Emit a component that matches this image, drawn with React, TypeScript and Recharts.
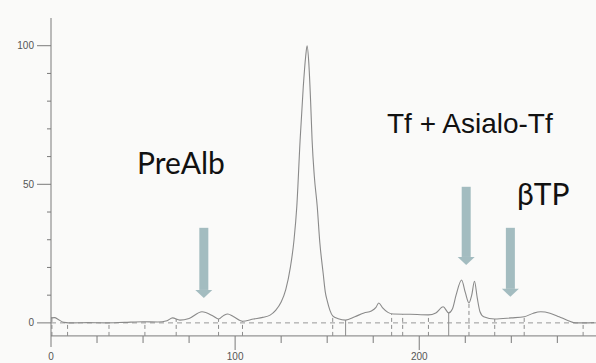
import React from "react";
import { LineChart, Line, XAxis, YAxis, ReferenceLine } from "recharts";

// densitometer trace: position along the strip vs relative intensity
const position = [
  0, 2, 4, 7, 12, 20, 30, 40, 50, 58, 63, 66, 70, 75, 82, 88, 91, 94, 96, 99,
  104, 110, 115, 119, 122, 125, 127.5, 130, 132, 133.5, 135.3, 137, 138.3,
  139.1, 140, 141, 141.8, 143, 144.6, 146, 147.8, 149, 150, 151.5, 153, 156,
  160, 165, 170, 174, 176.5, 178, 180, 183, 186, 195, 205, 209, 213, 216, 218,
  220, 223, 225, 227, 228.5, 230, 231.5, 233, 235, 241, 250, 257, 262, 266,
  271, 276, 281, 285, 290, 295,
];
const intensity = [
  1.8, 1.9, 1.2, 0.2, 0, 0.1, 0, 0.2, 0.4, 0.3, 0.8, 1.8, 1.0, 1.6, 4.0, 2.5,
  1.4, 2.8, 3.2, 2.3, 0.6, 1.4, 2.0, 2.8, 4.5, 7.5, 12, 20, 30, 42, 66, 85, 96,
  100, 94, 80, 66, 53, 42, 29, 18, 11, 8, 4.5, 2.5, 1.5, 1.0, 2.2, 3.6, 4.3,
  5.6, 7.2, 5.5, 3.8, 3.2, 3.1, 2.9, 3.6, 5.8, 3.6, 5, 10, 15.5, 11, 7.2, 10,
  15, 9, 4, 2.2, 1.4, 1.8, 2.2, 3.5, 4.0, 3.5, 2.2, 0.8, 0, 0, 0.1,
];

// integration boundaries dropped from the trace to the axis
const dropX = [0.5, 9, 31.5, 51, 68, 91, 104, 153, 160, 185, 191, 205, 216, 227, 241, 257, 289];
const dropTop = [1.8, 0, 0, 0.4, 1.4, 1.4, 0.6, 2.5, 1.0, 3.3, 3.1, 2.9, 3.6, 7.2, 1.4, 2.2, 0];
const solidDrops = [160, 216];

// annotation arrows
const arrowX = [83, 225.5, 249.5];
const arrowTop = [34.3, 49.1, 34.3];
const arrowTip = [9, 20.9, 9.4];

const xTicks = [0, 25, 50, 75, 100, 125, 150, 175, 200, 225, 250, 275];
const xLabels = [0, 100, 200];
const yTicks = [0, 10, 20, 30, 40, 50, 60, 70, 80, 90, 100];
const yLabels = [0, 50, 100];
const axisLevel = -4.7;

const data = position.map((x, i) => ({ x, v: intensity[i] }));

const axisColor = "#7a7a7a";
const arrowColor = "#a3bcc0";

const XTick = ({ x, y, payload }: any) => {
  const major = xLabels.includes(payload.value);
  return (
    <g>
      {payload.value !== 0 && (
        <line x1={x} x2={x} y1={y - 11} y2={major ? y + 3 : y - 4} stroke={axisColor} />
      )}
      {major && (
        <text x={x} y={y + 13} textAnchor="middle" fontSize={10} fill="#555"
          fontFamily="'Liberation Sans', Arial, sans-serif">
          {payload.value}
        </text>
      )}
    </g>
  );
};

const YTick = ({ x, y, payload }: any) => {
  const major = yLabels.includes(payload.value);
  return (
    <g>
      <line x1={major ? x - 14 : x - 4} x2={x} y1={y} y2={y} stroke={axisColor} />
      {major && (
        <text x={x - 17} y={y + 3.5} textAnchor="end" fontSize={10} fill="#555"
          fontFamily="'Liberation Sans', Arial, sans-serif">
          {payload.value}
        </text>
      )}
    </g>
  );
};

const ArrowShape = (props: any) => {
  const { x1, y1, x2, y2 } = props;
  const cx = (x1 + x2) / 2;
  const top = Math.min(y1, y2);
  const tip = Math.max(y1, y2);
  const head = 8;
  return (
    <g>
      <rect x={cx - 4.5} y={top} width={9} height={tip - top - head} fill={arrowColor} />
      <polygon
        points={`${cx - 8.5},${tip - head} ${cx + 8.5},${tip - head} ${cx},${tip}`}
        fill={arrowColor}
      />
    </g>
  );
};

export default function App() {
  return (
    <div style={{ position: "relative", width: 596, height: 363, background: "#fafaf9" }}>
      <style>{"body{margin:0}"}</style>
      <LineChart width={596} height={363} data={data}
        margin={{ top: 18, right: 0, bottom: 0, left: 0 }}>
        <XAxis type="number" dataKey="x" domain={[0, 296]} ticks={xTicks} interval={0}
          axisLine={false} tickLine={false} tickSize={0} tickMargin={0} height={16}
          tick={<XTick />} allowDataOverflow />
        <YAxis type="number" domain={[-8.7, 110]} ticks={yTicks} interval={0} width={51}
          axisLine={{ stroke: axisColor }} tickLine={false} tickSize={0} tickMargin={0}
          tick={<YTick />} allowDataOverflow />
        <ReferenceLine y={0} stroke="#999" strokeDasharray="5 4" />
        <ReferenceLine y={axisLevel} stroke={axisColor} />
        {dropX.map((x, i) => (
          <ReferenceLine key={`d${i}`} ifOverflow="visible"
            segment={[{ x, y: axisLevel }, { x, y: dropTop[i] }]}
            stroke="#8c8c8c"
            strokeDasharray={solidDrops.includes(x) ? undefined : "4 3"} />
        ))}
        <Line type="monotone" dataKey="v" stroke="#8a8a8a" strokeWidth={1.1}
          dot={false} isAnimationActive={false} />
        {arrowX.map((x, i) => (
          <ReferenceLine key={`a${i}`} ifOverflow="visible"
            segment={[{ x, y: arrowTop[i] }, { x, y: arrowTip[i] }]}
            shape={ArrowShape} />
        ))}
      </LineChart>
      <svg width={596} height={363} style={{ position: "absolute", left: 0, top: 0, pointerEvents: "none" }}>
        <text x={137} y={174} fontSize={30} fill="#111" fontFamily="Lato, 'Noto Sans', sans-serif">PreAlb</text>
        <text x={387} y={133} fontSize={28} fill="#111" fontFamily="'Liberation Sans', Arial, sans-serif">Tf + Asialo-Tf</text>
        <text x={517} y={205} fontSize={30} fill="#111" fontFamily="Lato, 'Noto Sans', sans-serif">βTP</text>
      </svg>
    </div>
  );
}
